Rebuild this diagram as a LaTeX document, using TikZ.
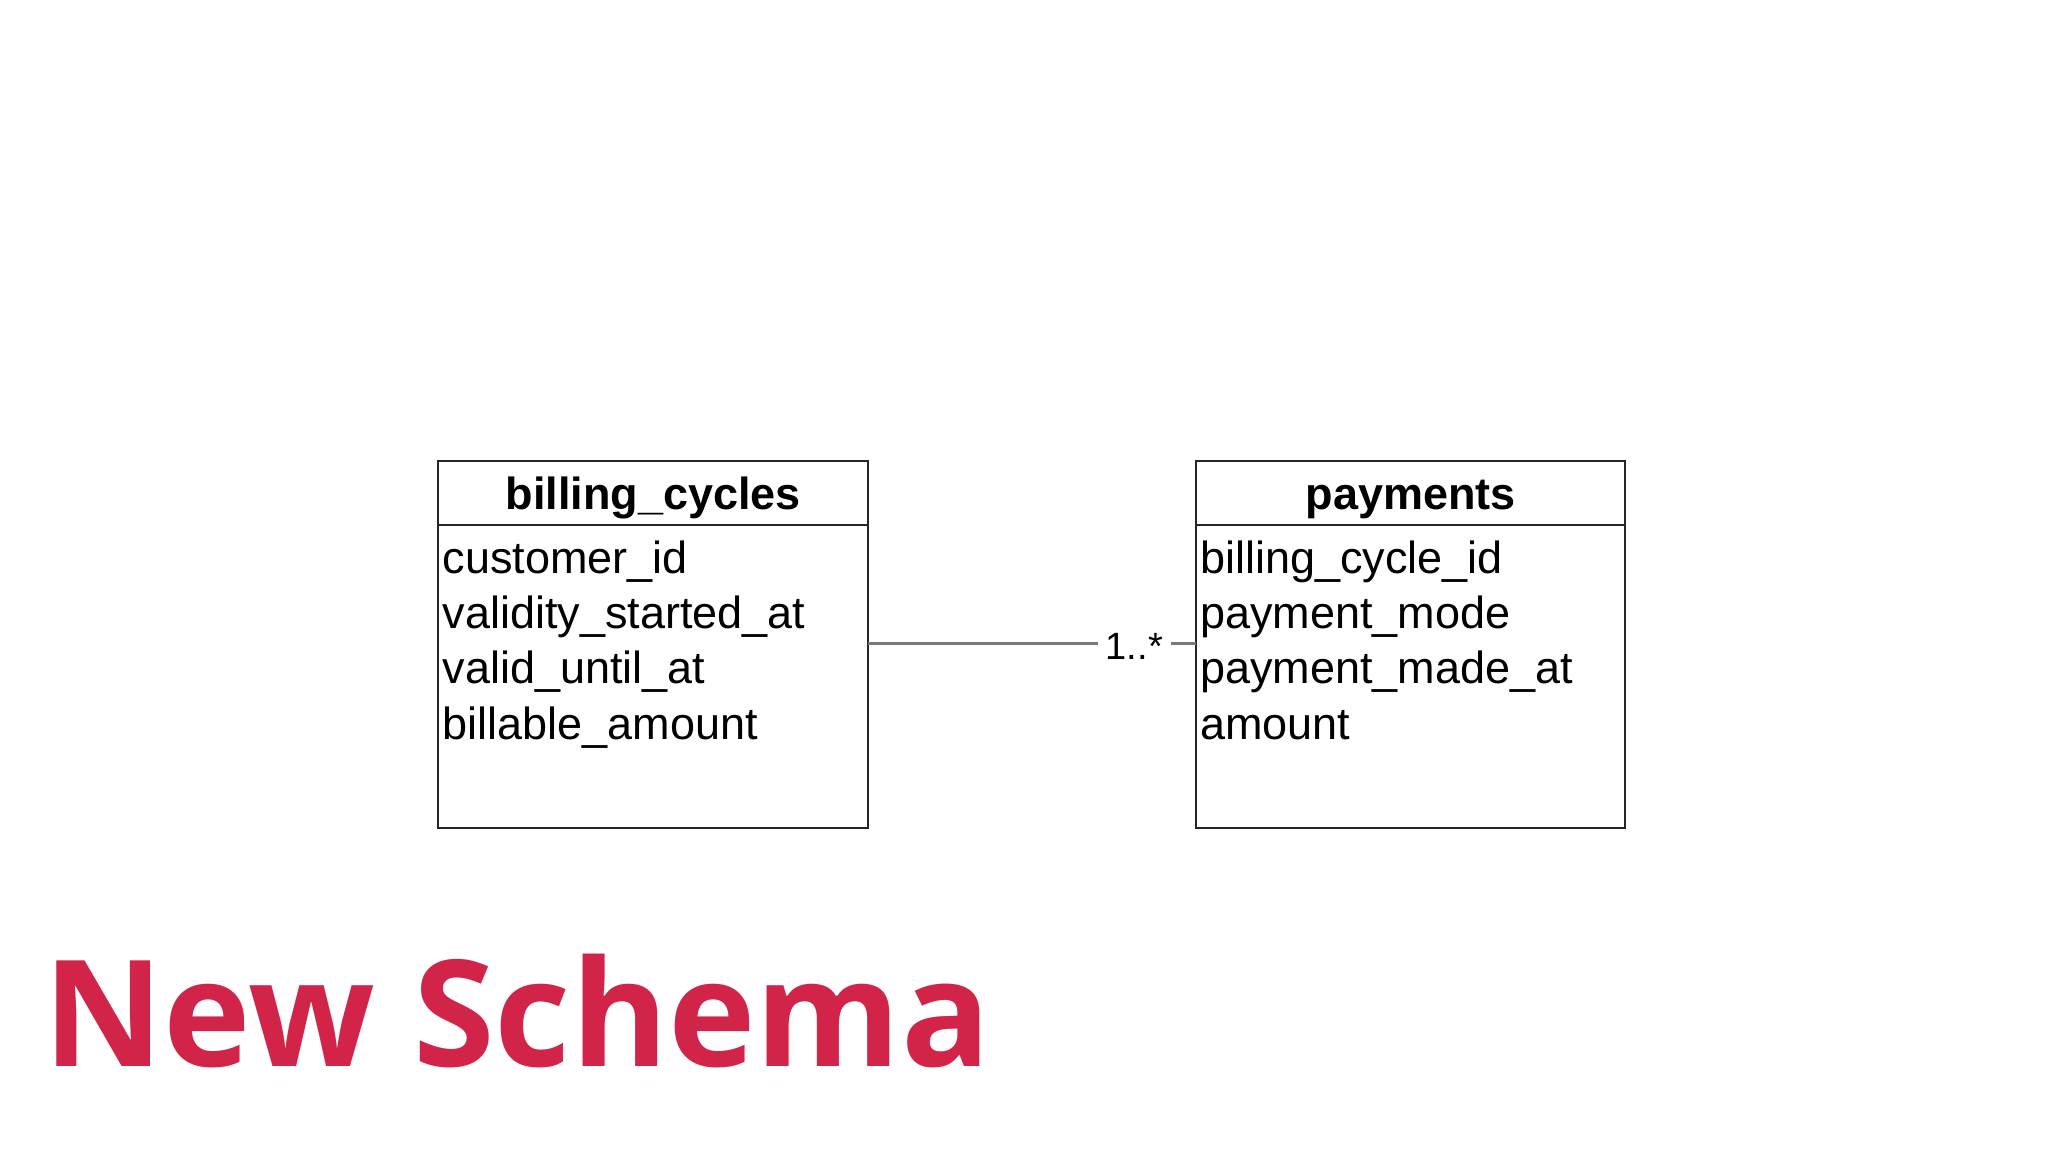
\documentclass[tikz,border=0pt]{standalone}
\usepackage{fontspec}
\setmainfont{Liberation Sans}
\newfontfamily\titlefont{Open Sans}
\definecolor{schemared}{RGB}{210,36,72}
\definecolor{linegray}{RGB}{120,120,120}
\begin{document}
\begin{tikzpicture}[x=1.3128pt,y=-1.3128pt,
  attr/.style={anchor=base west,inner sep=0pt,font=\fontsize{45}{50}\selectfont},
  hdr/.style={anchor=base,inner sep=0pt,font=\fontsize{45}{50}\selectfont\bfseries},
  box/.style={draw=black!85,line width=2pt}]
\useasboundingbox[fill=white] (0,0) rectangle (1560,877.5);
\draw[box] (334,351) rectangle (661,631);
\draw[box] (334,400) -- (661,400);
\draw[box] (911,351) rectangle (1238,631);
\draw[box] (911,400) -- (1238,400);
\node[hdr] (bh) at (497.5,388) {billing\_cycles};
\node[hdr] (ph) at (1074.5,388) {payments};
\node[attr] (b1) at (337,437) {customer\_id};
\node[attr] (b2) at (337,479) {validity\_started\_at};
\node[attr] (b3) at (337,521) {valid\_until\_at};
\node[attr] (b4) at (337,563) {billable\_amount};
\node[attr] (p1) at (914,437) {billing\_cycle\_id};
\node[attr] (p2) at (914,479) {payment\_mode};
\node[attr] (p3) at (914,521) {payment\_made\_at};
\node[attr] (p4) at (914,563) {amount};
\coordinate (l0) at (661,490);
\coordinate (l1) at (836,490);
\coordinate (l2) at (892,490);
\coordinate (l3) at (911,490);
\draw[linegray,line width=3pt] (l0) -- (l1);
\draw[linegray,line width=3pt] (l2) -- (l3);
\node[anchor=base,inner sep=0pt,font=\fontsize{38}{40}\selectfont] (m) at (864,502) {1..*};
\node[anchor=base west,inner sep=0pt,text=schemared,font=\titlefont\fontsize{148}{160}\selectfont\bfseries] (t) at (33,812) {New Schema};
\end{tikzpicture}
\end{document}
